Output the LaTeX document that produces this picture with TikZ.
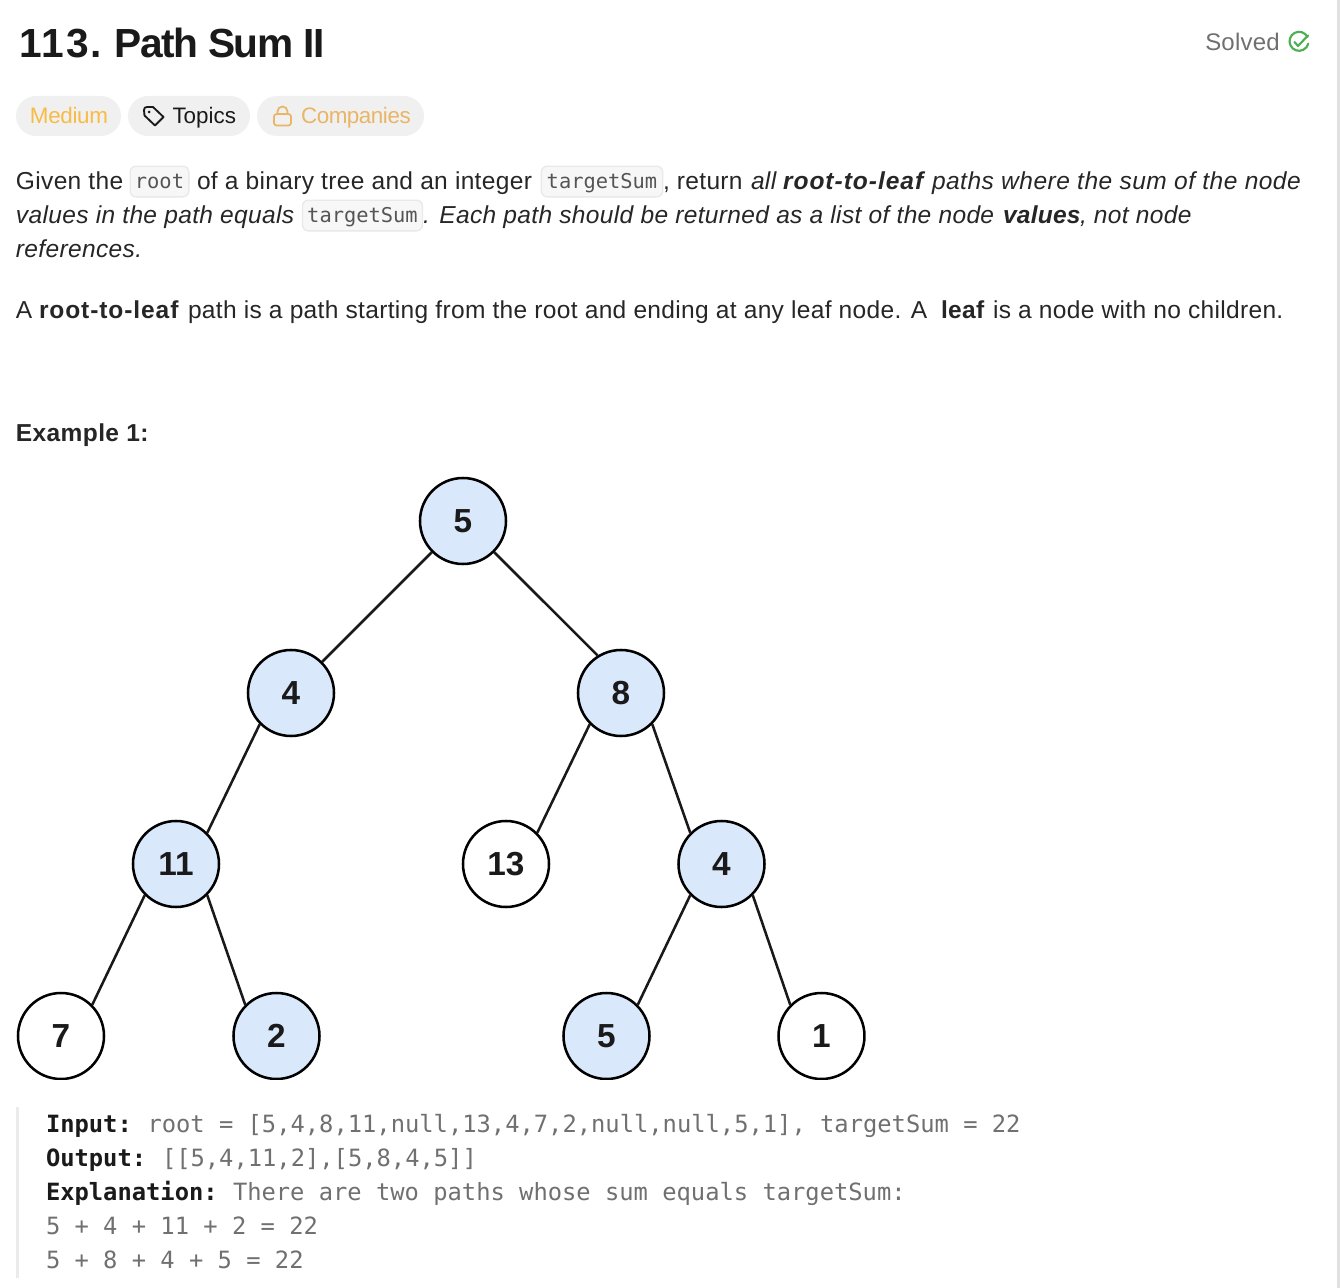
\documentclass[tikz,border=0pt]{standalone}
\usepackage{fontspec}
\setmainfont{Liberation Sans}
\setmonofont{DejaVu Sans Mono}
\definecolor{ink}{HTML}{1A1A1A}
\definecolor{bodyink}{HTML}{262626}
\definecolor{chipbg}{HTML}{F0F0F0}
\definecolor{amber}{HTML}{F8BB45}
\definecolor{gold}{HTML}{E9B566}
\definecolor{muted}{HTML}{707070}
\definecolor{okgreen}{HTML}{4CAF50}
\definecolor{codebg}{HTML}{F7F7F7}
\definecolor{codeline}{HTML}{E9E9E9}
\definecolor{codeink}{HTML}{555555}
\definecolor{treefill}{HTML}{DAE8FC}
\newcommand{\bodyfont}{\fontsize{18.4pt}{20pt}\selectfont}
\newcommand{\spc}[1]{\addfontfeature{LetterSpace=#1}}
\tikzset{
  txt/.style={anchor=base west,inner sep=0pt,outer sep=0pt,text=bodyink,font=\bodyfont\spc{1.3}},
  ital/.style={txt,font=\bodyfont\itshape\spc{1.4}},
  bld/.style={txt,font=\bodyfont\bfseries\spc{1.5}},
  bital/.style={txt,font=\bodyfont\bfseries\itshape\spc{4}},
  chip/.style={draw=none,fill=chipbg,rounded corners=20*0.75pt,inner sep=0pt,minimum height=30pt},
  codebox/.style={draw=codeline,fill=codebg,line width=1pt,rounded corners=4.5pt,inner sep=0pt,minimum height=23pt,
    text height=14pt,text depth=2.8pt,text=codeink,font=\ttfamily\fontsize{15.3pt}{17pt}\selectfont},
  pre/.style={anchor=base west,inner sep=0pt,outer sep=0pt,text=muted,font=\ttfamily\fontsize{17.83pt}{20pt}\selectfont},
  prebold/.style={pre,text=ink,font=\ttfamily\bfseries\fontsize{17.83pt}{20pt}\selectfont},
  tnode/.style={circle,draw=black,line width=1.9pt,minimum size=64.5pt,inner sep=0pt,text=ink,
    font=\bfseries\fontsize{25pt}{27pt}\selectfont},
  hit/.style={tnode,fill=treefill},
  miss/.style={tnode,fill=white},
  tedge/.style={draw=black!90,line width=1.9pt},
}
\begin{document}
\begin{tikzpicture}[x=0.75pt,y=-0.75pt]
\useasboundingbox (0,0) rectangle (1340,1288);
\fill[white] (0,0) rectangle (1340,1288);
\fill[black!12] (1337,0) rectangle (1340,1288);

% header
\node[anchor=base west,inner sep=0pt,text=ink,font=\bfseries\fontsize{30.5pt}{32pt}\selectfont\spc{5}] (title) at (19,58) {113.};
\node[anchor=base west,inner sep=0pt,text=ink,font=\bfseries\fontsize{30.5pt}{32pt}\selectfont\spc{-3.4}] (titleb) at (114,58) {Path Sum II};
\node[anchor=base west,inner sep=0pt,text=muted,font=\fontsize{18pt}{20pt}\selectfont\spc{1}] (solved) at (1205,51) {Solved};
\draw[okgreen,line width=1.6pt,line cap=round] (1307.5,37) arc (-27:-345:9.5);
\draw[okgreen,line width=1.6pt,line cap=round,line join=round] (1294.5,42) -- (1298,46) -- (1308,35.5);

% chips
\node[chip,minimum width=78.75pt] (chipa) at (68.5,116) {};
\node[chip,minimum width=91.5pt] (chipb) at (189,116) {};
\node[chip,minimum width=125.25pt] (chipc) at (340.5,116) {};
\node[txt,text=amber,font=\fontsize{16.8pt}{18pt}\selectfont\spc{-1.5}] (medium) at (30,123.5) {Medium};
\node[txt,text=ink,font=\fontsize{16.8pt}{18pt}\selectfont] (topics) at (172.5,123.5) {Topics};
\node[txt,text=gold,font=\fontsize{16.8pt}{18pt}\selectfont\spc{-2}] (companies) at (301,123.5) {Companies};
% tag icon
\draw[ink,line width=1.4pt,line join=round] (144,110) .. controls (144,108) and (145,107) .. (147,107) -- (153,107) -- (163.5,117) -- (155,125.5) -- (144.5,115.5) -- cycle;
\fill[ink] (149,112) circle (1.5);
% lock icon
\draw[gold,line width=1.3pt,rounded corners=2pt] (274,114) rectangle (291,125.5);
\draw[gold,line width=1.3pt] (277.5,114) -- (277.5,111.5) arc (180:360:5) -- (287.5,114);

% paragraph 1
\node[txt] (l1a) at (16,189.5) {Given the};
\node[codebox,minimum width=44pt] (c1) at (159.5,181.5) {root};
\node[txt] (l1b) at (197,189.5) {of a binary tree and an integer};
\node[codebox,minimum width=91pt] (c2) at (602,181.5) {targetSum};
\node[txt] (l1c) at (663,189.5) {, return};
\node[ital] (l1d) at (751,189.5) {all};
\node[bital] (l1e) at (783,189.5) {root-to-leaf};
\node[ital,font=\bodyfont\itshape\spc{1.95}] (l1f) at (932,189.5) {paths where the sum of the node};
\node[ital] (l2a) at (16,223) {values in the path equals};
\node[codebox,minimum width=90pt] (c3) at (362.5,215.5) {targetSum};
\node[ital] (l2b) at (423,223) {. Each path should be returned as a list of the node};
\node[bital,font=\bodyfont\bfseries\itshape\spc{1}] (l2c) at (1003,223) {values};
\node[ital] (l2d) at (1080,223) {, not node};
\node[ital] (l3a) at (16,257) {references.};

% paragraph 2
\node[txt] (p2a) at (16,318) {A};
\node[bld,font=\bodyfont\bfseries\spc{3.7}] (p2b) at (39,318) {root-to-leaf};
\node[txt] (p2c) at (188,318) {path is a path starting from the root and ending at any leaf node. A};
\node[bld] (p2d) at (941,318) {leaf};
\node[txt] (p2e) at (993,318) {is a node with no children.};

\node[bld] (ex) at (16,441) {Example 1:};

% tree (clipped like the screenshot)
\begin{scope}
\clip (0,470) rectangle (865.5,1079.5);
\node[hit]  (r)   at (463,521)  {5};
\node[hit]  (a)   at (291,693)  {4};
\node[hit]  (b)   at (621,693)  {8};
\node[hit]  (c)   at (176,864)  {11};
\node[miss] (d)   at (506,864)  {13};
\node[hit]  (e)   at (721.5,864)  {4};
\node[miss] (f)   at (61,1036)  {7};
\node[hit]  (g)   at (276.5,1036) {2};
\node[hit]  (h)   at (606.5,1036) {5};
\node[miss] (i)   at (821.5,1036) {1};
\draw[tedge] (r.225) -- (a.45);
\draw[tedge] (r.-45) -- (b.122);
\draw[tedge] (a.225) -- (c.45);
\draw[tedge] (b.225) -- (d.45);
\draw[tedge] (b.-45) -- (e.135);
\draw[tedge] (c.225) -- (f.45);
\draw[tedge] (c.-45) -- (g.135);
\draw[tedge] (e.225) -- (h.45);
\draw[tedge] (e.-45) -- (i.135);
\end{scope}

% example block
\fill[black!8] (16,1107) rectangle (19,1278);
\node[prebold] (in) at (46,1132) {Input:};
\node[pre] (inv) at (147.5,1132) {root = [5,4,8,11,null,13,4,7,2,null,null,5,1], targetSum = 22};
\node[prebold] (out) at (46,1166) {Output:};
\node[pre] (outv) at (162,1166) {[[5,4,11,2],[5,8,4,5]]};
\node[prebold] (ex2) at (46,1200) {Explanation:};
\node[pre] (exv) at (233,1200) {There are two paths whose sum equals targetSum:};
\node[pre] (s1) at (46,1234) {5 + 4 + 11 + 2 = 22};
\node[pre] (s2) at (46,1268) {5 + 8 + 4 + 5 = 22};
\end{tikzpicture}
\end{document}
